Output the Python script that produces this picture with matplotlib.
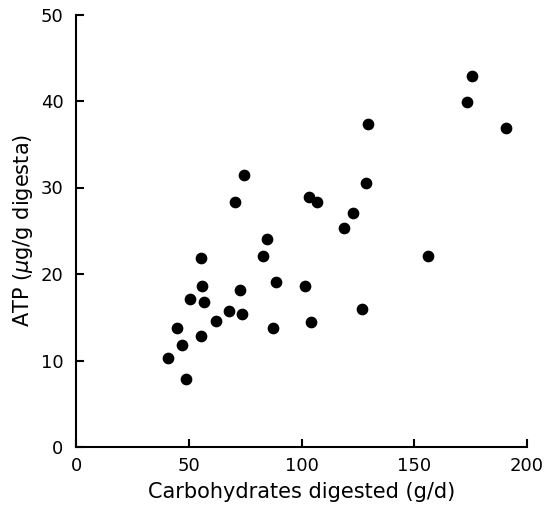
import matplotlib
matplotlib.use("Agg")
import matplotlib.pyplot as plt

carbs = [40.8, 44.8, 47.0, 48.8, 50.7, 55.3, 55.9, 56.9, 55.3, 62.1, 68.0, 70.4,
         72.6, 73.7, 74.6, 82.9, 84.6, 87.2, 88.9, 101.5, 103.2, 104.3, 106.8,
         118.8, 122.8, 126.7, 128.7, 129.3, 155.9, 173.5, 175.8, 190.9]
atp = [10.3, 13.7, 11.8, 7.9, 17.1, 21.8, 18.6, 16.8, 12.8, 14.6, 15.7, 28.3,
       18.1, 15.4, 31.4, 22.1, 24.1, 13.7, 19.1, 18.6, 28.9, 14.5, 28.3,
       25.3, 27.0, 15.9, 30.5, 37.3, 22.1, 39.9, 42.9, 36.9]
xticks = [0, 50, 100, 150, 200]
yticks = [0, 10, 20, 30, 40, 50]

plt.rcParams['font.family'] = ['DejaVu Sans']

fig = plt.figure(figsize=(5.46, 5.08), dpi=100)
ax = fig.add_axes([76/546, 1 - 447/508, (527 - 76)/546, (447 - 14.5)/508])
ax.scatter(carbs, atp, s=55, color='black', zorder=3, clip_on=False)
ax.set_xlim(0, 200)
ax.set_ylim(0, 50)
ax.set_xticks(xticks)
ax.set_yticks(yticks)
for s in ['top', 'right']:
    ax.spines[s].set_visible(False)
for s in ['left', 'bottom']:
    ax.spines[s].set_linewidth(1.5)
ax.tick_params(direction='in', length=6, width=1.5, labelsize=13)
ax.tick_params(axis='y', pad=9)
ax.tick_params(axis='x', pad=7)
ax.set_xlabel('Carbohydrates digested (g/d)', fontsize=15, labelpad=5)
ax.set_ylabel('ATP ($\\mu$g/g digesta)', fontsize=15, labelpad=4)
fig.savefig('out.png', dpi=100)
